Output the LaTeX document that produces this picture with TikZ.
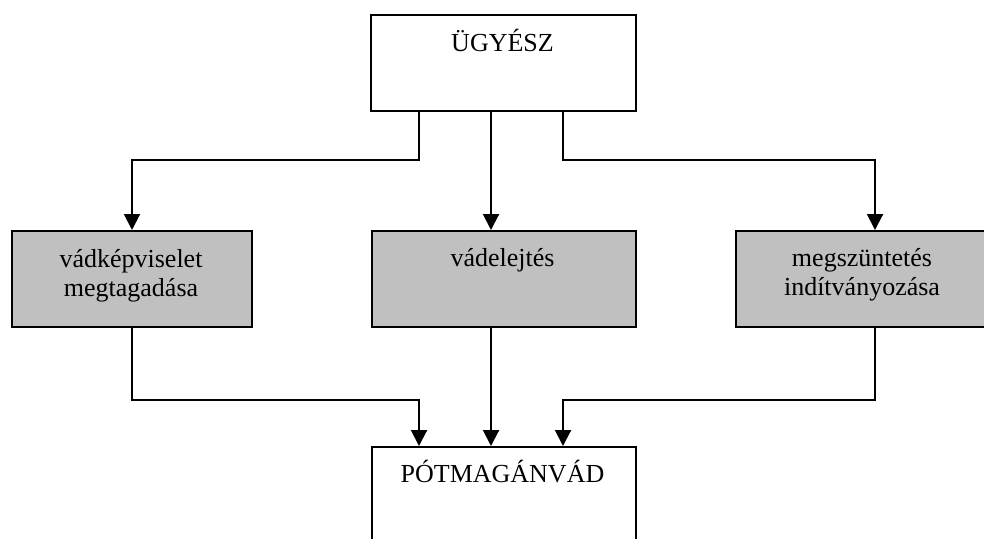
\documentclass[tikz,border=0pt]{standalone}
\usepackage{fontspec}
\setmainfont{Liberation Serif}
\usetikzlibrary{arrows.meta}
\begin{document}
\begin{tikzpicture}[x=1pt,y=-1pt,
  box/.style={draw=black, line width=2pt, rectangle, anchor=north west, inner sep=0pt},
  grey/.style={box, fill=boxgrey},
  lbl/.style={font=\fontsize{26}{28.5}\selectfont, align=center, inner sep=0pt},
  conn/.style={draw=black, line width=2pt, -{Triangle[length=16pt,width=16pt]}}]
\definecolor{boxgrey}{HTML}{C0C0C0}
\useasboundingbox (0,0) rectangle (984,538);
\clip (0,0) rectangle (984,538);
% boxes
\node[box, minimum width=265pt, minimum height=96pt] (top) at (370,14) {};
\node[grey, minimum width=240pt, minimum height=96pt] (left) at (11,230) {};
\node[grey, minimum width=264pt, minimum height=96pt] (mid) at (371,230) {};
\node[grey, minimum width=254pt, minimum height=96pt] (right) at (735,230) {};
\node[box, minimum width=264pt, minimum height=140pt] (bot) at (371,446) {};
% labels (base anchor of a two-line label is its last line)
\node[lbl, anchor=base] (ttop) at (502.5,51) {ÜGYÉSZ};
\node[lbl, anchor=base] (tleft) at (131,296) {vádképviselet\\megtagadása};
\node[lbl, anchor=base] (tmid) at (502.5,266) {vádelejtés};
\node[lbl, anchor=base] (tright) at (862,295) {megszüntetés\\indítványozása};
\node[lbl, anchor=base] (tbot) at (502.5,482) {PÓTMAGÁNVÁD};
% connectors from the prosecutor
\draw[conn] ([xshift=49pt]top.south west) -- ++(0,48) -| (left.north);
\draw[conn] ([xshift=121pt]top.south west) -- ([xshift=120pt]mid.north west);
\draw[conn] ([xshift=193pt]top.south west) -- ++(0,48) -| ([xshift=140pt]right.north west);
% connectors into the substitute private prosecution
\draw[conn] (left.south) -- ++(0,72) -| ([xshift=48pt]bot.north west);
\draw[conn] ([xshift=120pt]mid.south west) -- ([xshift=120pt]bot.north west);
\draw[conn] ([xshift=140pt]right.south west) -- ++(0,72) -| ([xshift=192pt]bot.north west);
\end{tikzpicture}
\end{document}
